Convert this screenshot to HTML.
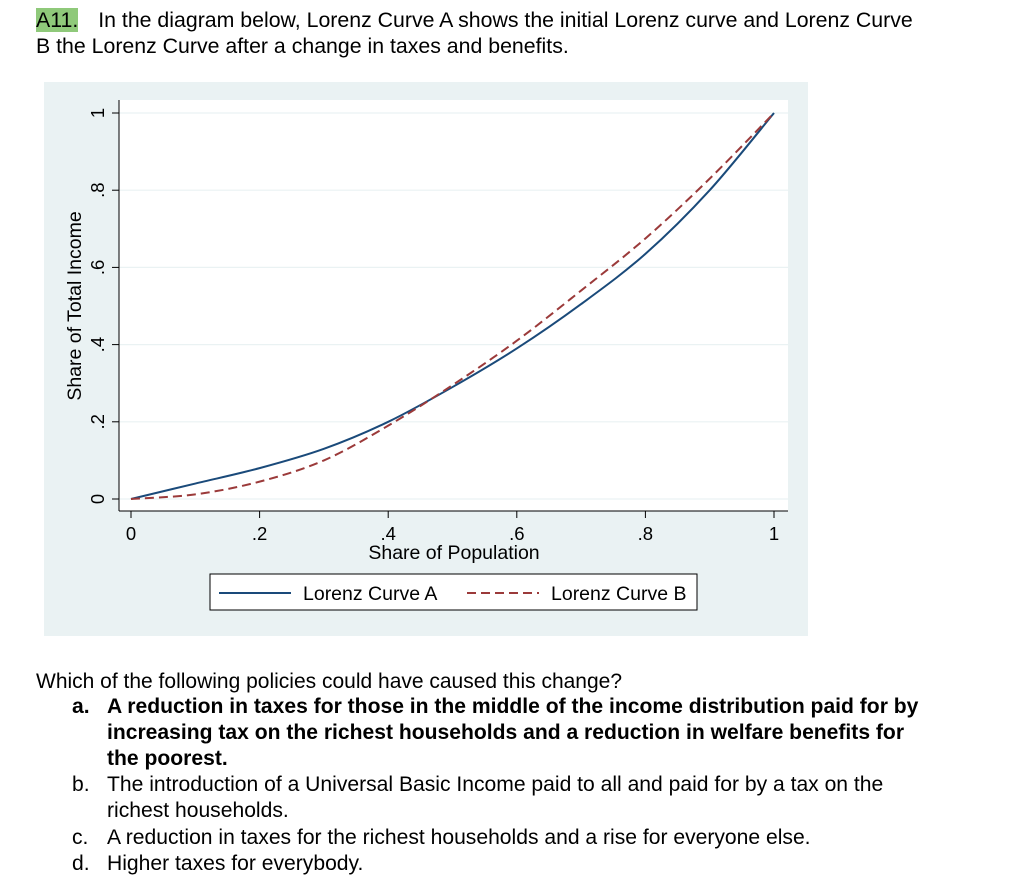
<!DOCTYPE html>
<html><head><meta charset="utf-8"><style>
body{margin:0;width:1024px;height:882px;background:#fff;font-family:"Liberation Sans",Arial,sans-serif;color:#000;position:relative;overflow:hidden}
.t{position:absolute;font-size:21.3px;line-height:26px;white-space:nowrap}
.o{position:absolute;left:72px;font-size:21.1px;line-height:26px;white-space:nowrap}
</style></head><body>
<div class="t" style="left:36px;top:7px"><span style="background:#8fc97a">A11.</span><span style="margin-left:20px">In the diagram below, Lorenz Curve A shows the initial Lorenz curve and Lorenz Curve</span></div>
<div class="t" style="left:36px;top:33px">B the Lorenz Curve after a change in taxes and benefits.</div>

<svg style="position:absolute;left:0;top:0" width="1024" height="650">
<rect x="44" y="82" width="764" height="554" fill="#eaf2f3"/>
<rect x="119" y="100" width="669" height="411" fill="#fff"/>
<g id="grid"></g>
<line x1="119" y1="100" x2="119" y2="511" stroke="#000" stroke-width="1"/>
<line x1="119" y1="511" x2="788" y2="511" stroke="#000" stroke-width="1"/>
<g id="ticks" font-family="Liberation Sans,Arial,sans-serif" font-size="18.5"></g>
<text x="454" y="559" text-anchor="middle" font-size="19.5" font-family="Liberation Sans,Arial,sans-serif">Share of Population</text>
<text transform="translate(81,306) rotate(-90)" text-anchor="middle" font-size="19.5" font-family="Liberation Sans,Arial,sans-serif">Share of Total Income</text>
<g id="series"></g>
<g>
<rect x="210" y="574" width="487" height="36" fill="#fff" stroke="#000" stroke-width="1"/>
<line x1="219" y1="593" x2="291" y2="593" stroke="#1a4a7a" stroke-width="2"/>
<text x="303" y="600" font-size="19.5" font-family="Liberation Sans,Arial,sans-serif">Lorenz Curve A</text>
<line x1="467" y1="593" x2="539" y2="593" stroke="#9b3a3a" stroke-width="2" stroke-dasharray="9,5"/>
<text x="551" y="600" font-size="19.5" font-family="Liberation Sans,Arial,sans-serif">Lorenz Curve B</text>
</g>
</svg>

<div class="t" style="left:36px;top:669px;font-size:21px">Which of the following policies could have caused this change?</div>
<div class="o" style="top:694px;font-weight:bold">
<span style="position:absolute;left:0">a.</span>
<div style="margin-left:35px">A reduction in taxes for those in the middle of the income distribution paid for by<br>increasing tax on the richest households and a reduction in welfare benefits for<br>the poorest.</div></div>
<div class="o" style="top:772px">
<span style="position:absolute;left:0">b.</span>
<div style="margin-left:35px">The introduction of a Universal Basic Income paid to all and paid for by a tax on the<br>richest households.</div></div>
<div class="o" style="top:825px">
<span style="position:absolute;left:0">c.</span><span style="margin-left:35px">A reduction in taxes for the richest households and a rise for everyone else.</span></div>
<div class="o" style="top:851px">
<span style="position:absolute;left:0">d.</span><span style="margin-left:35px">Higher taxes for everybody.</span></div>

<script>
const population = [0,0.1,0.2,0.3,0.4,0.5,0.6,0.7,0.8,0.9,1];
const curveA = [0,0.04,0.08,0.13,0.2,0.29,0.39,0.505,0.635,0.8,1];
const curveB = [0,0.012,0.045,0.1,0.19,0.295,0.41,0.54,0.675,0.83,1];
const xTicks = [0,0.2,0.4,0.6,0.8,1];
const xTickLabels = ["0",".2",".4",".6",".8","1"];
const yTicks = [0,0.2,0.4,0.6,0.8,1];
const yTickLabels = ["0",".2",".4",".6",".8","1"];
const NS="http://www.w3.org/2000/svg";
const sx=v=>131+v*643, sy=v=>499-v*386;
function mk(t,a,p){const e=document.createElementNS(NS,t);for(const k in a)e.setAttribute(k,a[k]);p.appendChild(e);return e;}
const grid=document.getElementById('grid'),ticks=document.getElementById('ticks'),series=document.getElementById('series');
yTicks.forEach((v,i)=>{
 const g=mk('line',{x1:119,x2:788,y1:sy(v),y2:sy(v),stroke:'#eaf2f3','stroke-width':1.2},grid);
 
 
 const t=mk('line',{x1:112,x2:119,y1:sy(v),y2:sy(v),stroke:'#000'},ticks);
 
 
 const l=mk('text',{transform:`translate(104,${sy(v)}) rotate(-90)`,'text-anchor':'middle'},ticks);
 l.textContent=yTickLabels[i];
 
 
});
xTicks.forEach((v,i)=>{
 const t=mk('line',{x1:sx(v),x2:sx(v),y1:511,y2:518,stroke:'#000'},ticks);
 
 
 const l=mk('text',{x:sx(v),y:540,'text-anchor':'middle'},ticks);
 l.textContent=xTickLabels[i];
 
 
});
function path(ys){
 const p=population.map((x,i)=>[sx(x),sy(ys[i])]);
 let d=`M${p[0][0]},${p[0][1]}`;
 for(let i=0;i<p.length-1;i++){
  const p0=p[Math.max(0,i-1)],p1=p[i],p2=p[i+1],p3=p[Math.min(p.length-1,i+2)];
  d+=` C${p1[0]+(p2[0]-p0[0])/6},${p1[1]+(p2[1]-p0[1])/6} ${p2[0]-(p3[0]-p1[0])/6},${p2[1]-(p3[1]-p1[1])/6} ${p2[0]},${p2[1]}`;
 }
 return d;
}
const a=mk('path',{d:path(curveA),fill:'none',stroke:'#1a4a7a','stroke-width':2},series);


const b=mk('path',{d:path(curveB),fill:'none',stroke:'#9b3a3a','stroke-width':2,'stroke-dasharray':'9,5'},series);


</script>
</body></html>
